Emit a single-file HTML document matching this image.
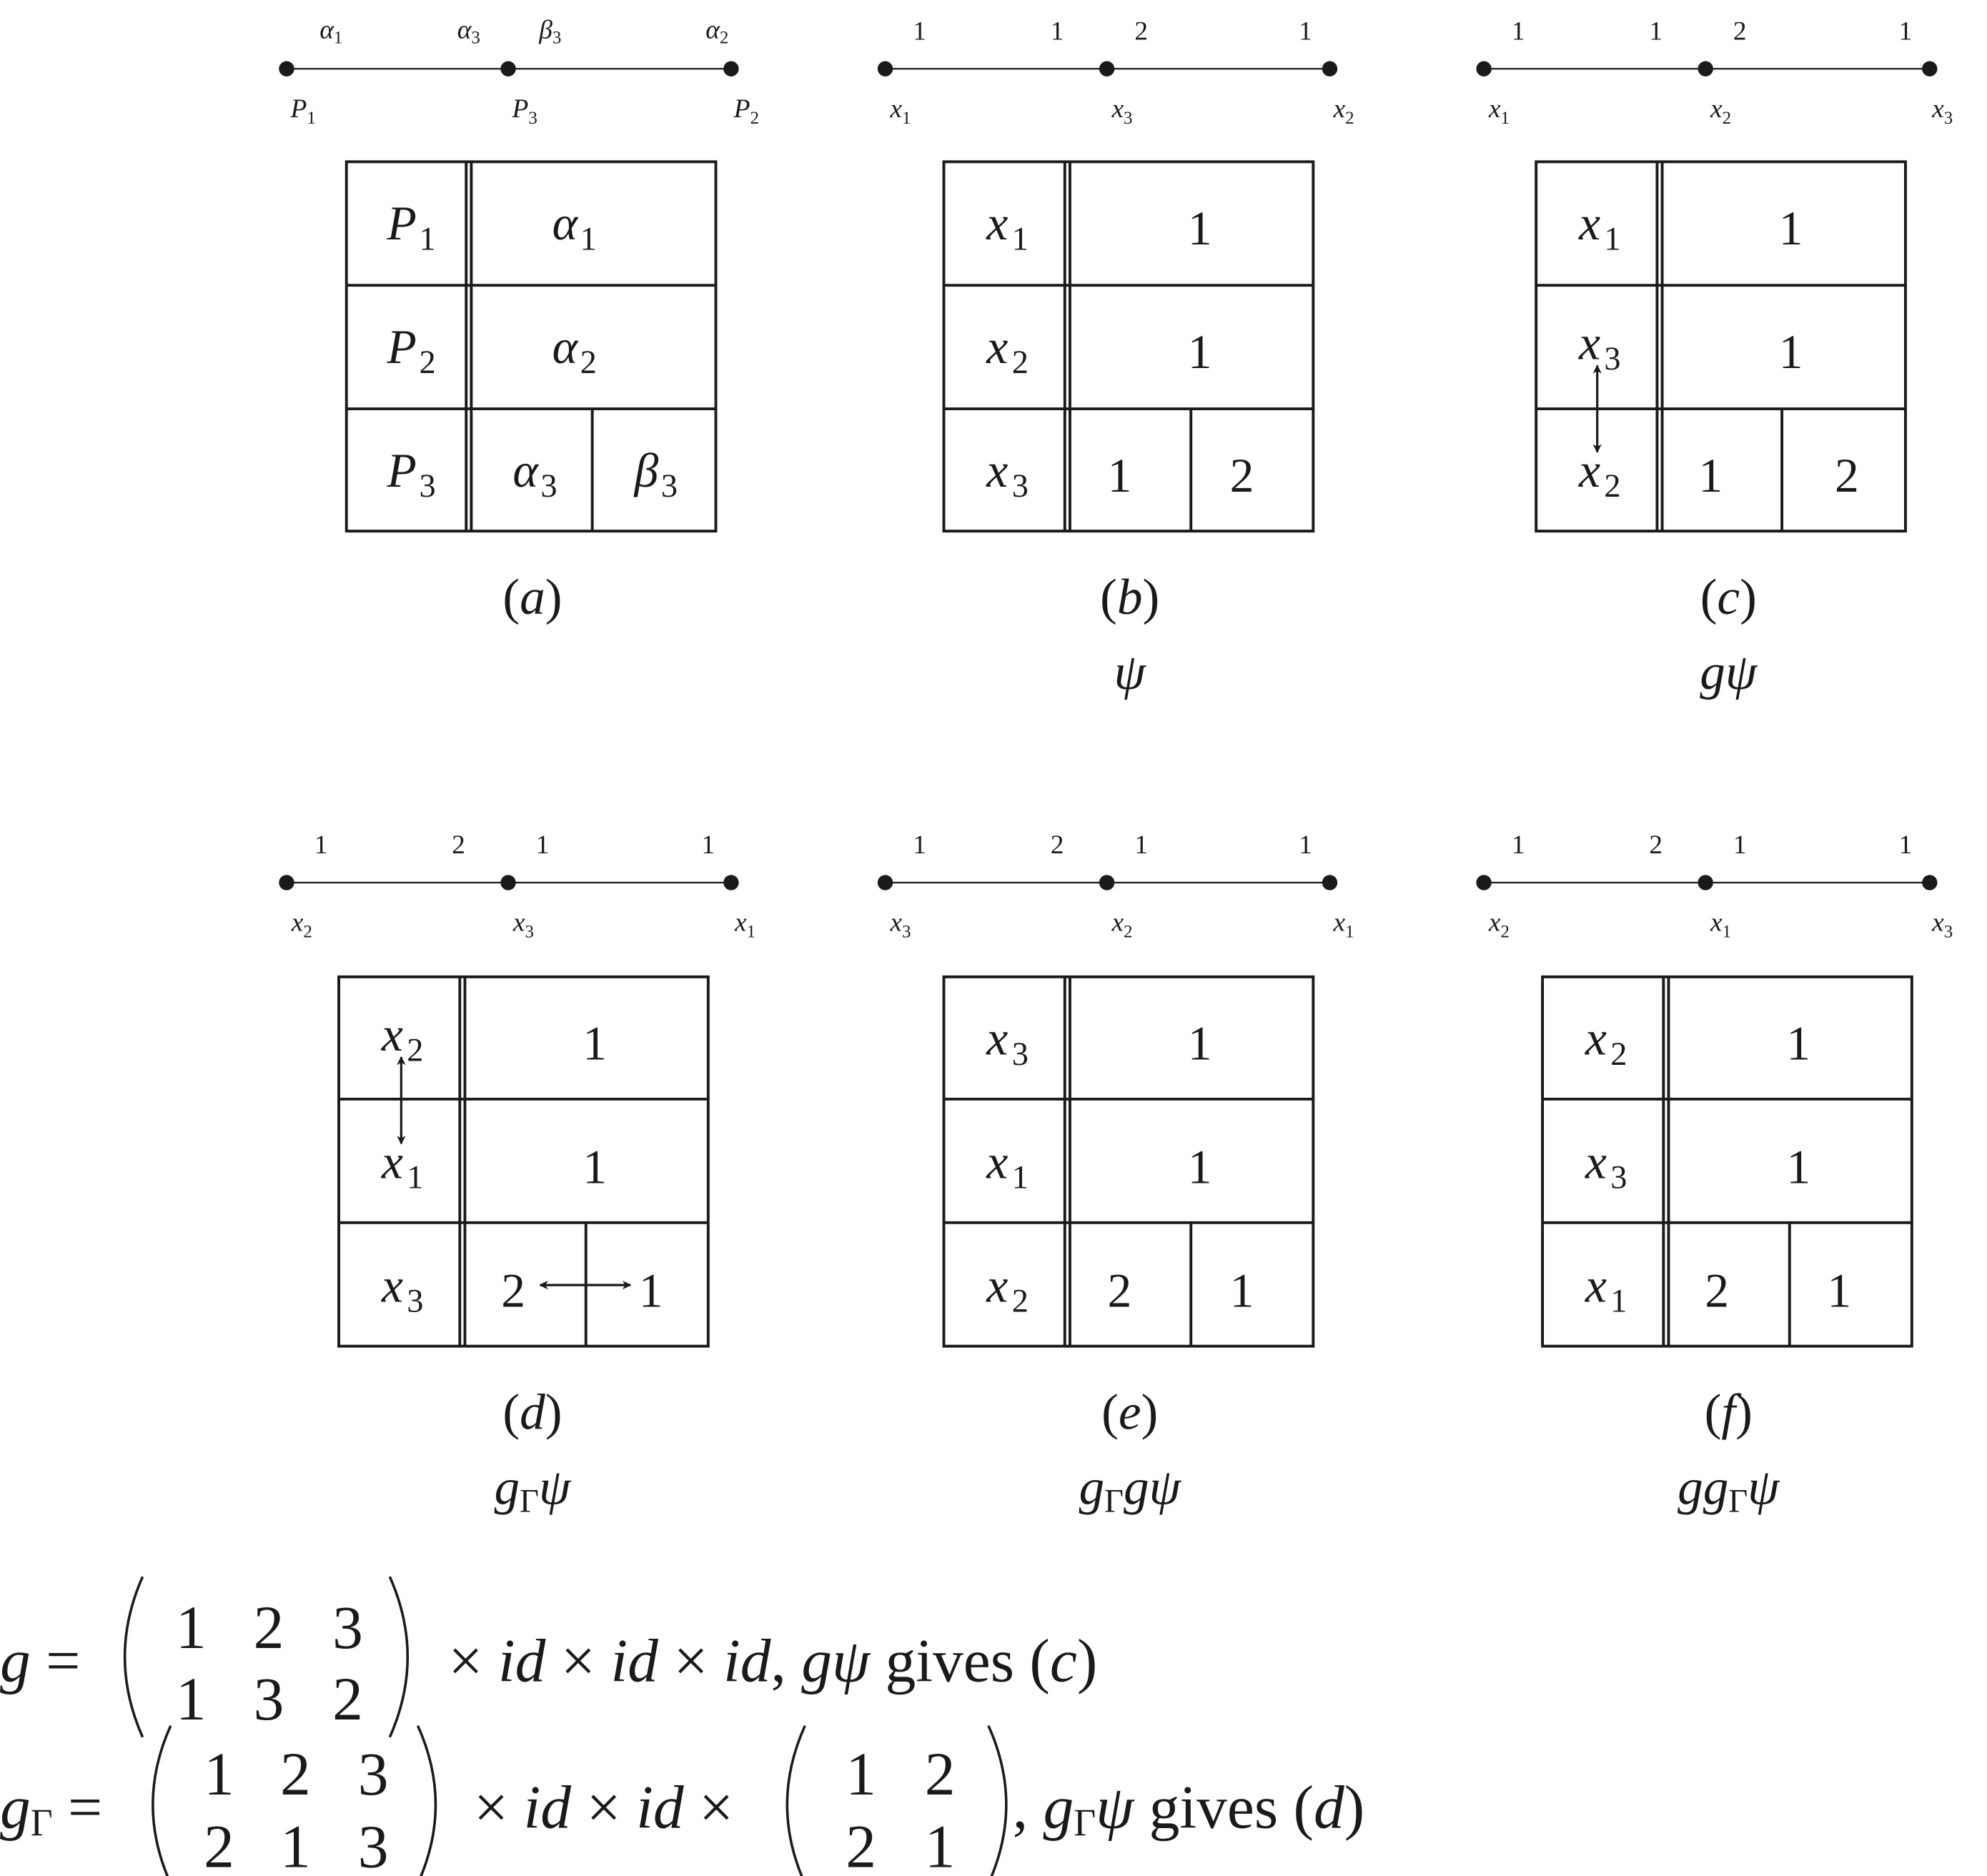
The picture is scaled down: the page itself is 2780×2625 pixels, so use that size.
<!DOCTYPE html>
<html><head><meta charset="utf-8"><style>
html,body{margin:0;padding:0;background:#fff;}
svg{display:block;}
text{font-family:"Liberation Serif",serif;fill:#1a1a1a;}
.it{font-style:italic;}
</style></head><body>
<svg width="2780" height="2625" viewBox="0 0 1560 1473" xmlns="http://www.w3.org/2000/svg">
<defs>
<marker id="ah" viewBox="0 0 10 10" refX="9" refY="5" markerWidth="7" markerHeight="7" markerUnits="userSpaceOnUse" orient="auto-start-reverse"><path d="M0,0 L10,5 L0,10 L3,5 z" fill="#1a1a1a"/></marker>
</defs>
<g stroke="#1a1a1a" fill="none">
<g stroke-width="1.3">
<line x1="225" y1="54" x2="574" y2="54"/><line x1="695" y1="54" x2="1044" y2="54"/><line x1="1165" y1="54" x2="1515" y2="54"/>
<line x1="225" y1="693" x2="574" y2="693"/><line x1="695" y1="693" x2="1044" y2="693"/><line x1="1165" y1="693" x2="1515" y2="693"/>
</g>
<g stroke-width="2.2">
<rect x="272" y="127" width="290" height="290"/><line x1="272" y1="224" x2="562" y2="224"/><line x1="272" y1="321" x2="562" y2="321"/><line x1="366" y1="127" x2="366" y2="417"/><line x1="370" y1="127" x2="370" y2="417"/><line x1="465" y1="321" x2="465" y2="417"/>
<rect x="741" y="127" width="290" height="290"/><line x1="741" y1="224" x2="1031" y2="224"/><line x1="741" y1="321" x2="1031" y2="321"/><line x1="836" y1="127" x2="836" y2="417"/><line x1="840" y1="127" x2="840" y2="417"/><line x1="935" y1="321" x2="935" y2="417"/>
<rect x="1206" y="127" width="290" height="290"/><line x1="1206" y1="224" x2="1496" y2="224"/><line x1="1206" y1="321" x2="1496" y2="321"/><line x1="1301" y1="127" x2="1301" y2="417"/><line x1="1305" y1="127" x2="1305" y2="417"/><line x1="1399" y1="321" x2="1399" y2="417"/>
<rect x="266" y="767" width="290" height="290"/><line x1="266" y1="863" x2="556" y2="863"/><line x1="266" y1="960" x2="556" y2="960"/><line x1="361" y1="767" x2="361" y2="1057"/><line x1="365" y1="767" x2="365" y2="1057"/><line x1="460" y1="960" x2="460" y2="1057"/>
<rect x="741" y="767" width="290" height="290"/><line x1="741" y1="863" x2="1031" y2="863"/><line x1="741" y1="960" x2="1031" y2="960"/><line x1="836" y1="767" x2="836" y2="1057"/><line x1="840" y1="767" x2="840" y2="1057"/><line x1="935" y1="960" x2="935" y2="1057"/>
<rect x="1211" y="767" width="290" height="290"/><line x1="1211" y1="863" x2="1501" y2="863"/><line x1="1211" y1="960" x2="1501" y2="960"/><line x1="1306" y1="767" x2="1306" y2="1057"/><line x1="1310" y1="767" x2="1310" y2="1057"/><line x1="1405" y1="960" x2="1405" y2="1057"/>
</g>
<g stroke-width="1.8">
<line x1="1254" y1="287" x2="1254" y2="355" marker-start="url(#ah)" marker-end="url(#ah)"/>
<line x1="315" y1="830" x2="315" y2="898" marker-start="url(#ah)" marker-end="url(#ah)"/>
<line x1="424" y1="1009" x2="495" y2="1009" marker-start="url(#ah)" marker-end="url(#ah)"/>
</g>
<g stroke-width="2">
<path d="M112 1238 Q 84 1301 112 1364"/><path d="M306 1238 Q 334 1301 306 1364"/>
<path d="M134 1355 Q 106 1417 134 1479"/><path d="M328 1355 Q 356 1417 328 1479"/>
<path d="M632 1355 Q 604 1417 632 1479"/><path d="M776 1355 Q 804 1417 776 1479"/>
</g>
</g>
<g fill="#1a1a1a">
<circle cx="225" cy="54" r="6"/><circle cx="399" cy="54" r="6"/><circle cx="574" cy="54" r="6"/>
<circle cx="695" cy="54" r="6"/><circle cx="869" cy="54" r="6"/><circle cx="1044" cy="54" r="6"/>
<circle cx="1165" cy="54" r="6"/><circle cx="1339" cy="54" r="6"/><circle cx="1515" cy="54" r="6"/>
<circle cx="225" cy="693" r="6"/><circle cx="399" cy="693" r="6"/><circle cx="574" cy="693" r="6"/>
<circle cx="695" cy="693" r="6"/><circle cx="869" cy="693" r="6"/><circle cx="1044" cy="693" r="6"/>
<circle cx="1165" cy="693" r="6"/><circle cx="1339" cy="693" r="6"/><circle cx="1515" cy="693" r="6"/>
</g>
<g font-size="21" text-anchor="middle">
<text x="260" y="30"><tspan class="it">α</tspan><tspan font-size="14" dy="4">1</tspan></text>
<text x="368" y="30"><tspan class="it">α</tspan><tspan font-size="14" dy="4">3</tspan></text>
<text x="432" y="30"><tspan class="it">β</tspan><tspan font-size="14" dy="4">3</tspan></text>
<text x="563" y="30"><tspan class="it">α</tspan><tspan font-size="14" dy="4">2</tspan></text>
<text x="238" y="92"><tspan class="it">P</tspan><tspan font-size="14" dy="5">1</tspan></text>
<text x="412" y="92"><tspan class="it">P</tspan><tspan font-size="14" dy="5">3</tspan></text>
<text x="586" y="92"><tspan class="it">P</tspan><tspan font-size="14" dy="5">2</tspan></text>
<text x="722" y="31">1</text><text x="830" y="31">1</text><text x="896" y="31">2</text><text x="1025" y="31">1</text>
<text x="707" y="92"><tspan class="it">x</tspan><tspan font-size="14" dy="5">1</tspan></text>
<text x="881" y="92"><tspan class="it">x</tspan><tspan font-size="14" dy="5">3</tspan></text>
<text x="1055" y="92"><tspan class="it">x</tspan><tspan font-size="14" dy="5">2</tspan></text>
<text x="1192" y="31">1</text><text x="1300" y="31">1</text><text x="1366" y="31">2</text><text x="1496" y="31">1</text>
<text x="1177" y="92"><tspan class="it">x</tspan><tspan font-size="14" dy="5">1</tspan></text>
<text x="1351" y="92"><tspan class="it">x</tspan><tspan font-size="14" dy="5">2</tspan></text>
<text x="1525" y="92"><tspan class="it">x</tspan><tspan font-size="14" dy="5">3</tspan></text>
<text x="252" y="670">1</text><text x="360" y="670">2</text><text x="426" y="670">1</text><text x="556" y="670">1</text>
<text x="237" y="731"><tspan class="it">x</tspan><tspan font-size="14" dy="5">2</tspan></text>
<text x="411" y="731"><tspan class="it">x</tspan><tspan font-size="14" dy="5">3</tspan></text>
<text x="585" y="731"><tspan class="it">x</tspan><tspan font-size="14" dy="5">1</tspan></text>
<text x="722" y="670">1</text><text x="830" y="670">2</text><text x="896" y="670">1</text><text x="1025" y="670">1</text>
<text x="707" y="731"><tspan class="it">x</tspan><tspan font-size="14" dy="5">3</tspan></text>
<text x="881" y="731"><tspan class="it">x</tspan><tspan font-size="14" dy="5">2</tspan></text>
<text x="1055" y="731"><tspan class="it">x</tspan><tspan font-size="14" dy="5">1</tspan></text>
<text x="1192" y="670">1</text><text x="1300" y="670">2</text><text x="1366" y="670">1</text><text x="1496" y="670">1</text>
<text x="1177" y="731"><tspan class="it">x</tspan><tspan font-size="14" dy="5">2</tspan></text>
<text x="1351" y="731"><tspan class="it">x</tspan><tspan font-size="14" dy="5">1</tspan></text>
<text x="1525" y="731"><tspan class="it">x</tspan><tspan font-size="14" dy="5">3</tspan></text>
</g>
<g font-size="38" text-anchor="middle">
<text x="323" y="188"><tspan class="it">P</tspan><tspan font-size="26" dy="8" dx="2">1</tspan></text>
<text x="451" y="188"><tspan class="it">α</tspan><tspan font-size="26" dy="8" dx="2">1</tspan></text>
<text x="323" y="285"><tspan class="it">P</tspan><tspan font-size="26" dy="8" dx="2">2</tspan></text>
<text x="451" y="285"><tspan class="it">α</tspan><tspan font-size="26" dy="8" dx="2">2</tspan></text>
<text x="323" y="382"><tspan class="it">P</tspan><tspan font-size="26" dy="8" dx="2">3</tspan></text>
<text x="420" y="382"><tspan class="it">α</tspan><tspan font-size="26" dy="8" dx="2">3</tspan></text>
<text x="515" y="382"><tspan class="it">β</tspan><tspan font-size="26" dy="8" dx="2">3</tspan></text>

<text x="791" y="188"><tspan class="it">x</tspan><tspan font-size="26" dy="8" dx="3">1</tspan></text><text x="942" y="192">1</text>
<text x="791" y="285"><tspan class="it">x</tspan><tspan font-size="26" dy="8" dx="3">2</tspan></text><text x="942" y="289">1</text>
<text x="791" y="382"><tspan class="it">x</tspan><tspan font-size="26" dy="8" dx="3">3</tspan></text><text x="879" y="386">1</text><text x="975" y="386">2</text>

<text x="1256" y="188"><tspan class="it">x</tspan><tspan font-size="26" dy="8" dx="3">1</tspan></text><text x="1406" y="192">1</text>
<text x="1256" y="282"><tspan class="it">x</tspan><tspan font-size="26" dy="8" dx="3">3</tspan></text><text x="1406" y="289">1</text>
<text x="1256" y="382"><tspan class="it">x</tspan><tspan font-size="26" dy="8" dx="3">2</tspan></text><text x="1343" y="386">1</text><text x="1450" y="386">2</text>

<text x="316" y="825"><tspan class="it">x</tspan><tspan font-size="26" dy="8" dx="3">2</tspan></text><text x="467" y="832">1</text>
<text x="316" y="925"><tspan class="it">x</tspan><tspan font-size="26" dy="8" dx="3">1</tspan></text><text x="467" y="929">1</text>
<text x="316" y="1022"><tspan class="it">x</tspan><tspan font-size="26" dy="8" dx="3">3</tspan></text><text x="403" y="1026">2</text><text x="511" y="1026">1</text>

<text x="791" y="828"><tspan class="it">x</tspan><tspan font-size="26" dy="8" dx="3">3</tspan></text><text x="942" y="832">1</text>
<text x="791" y="925"><tspan class="it">x</tspan><tspan font-size="26" dy="8" dx="3">1</tspan></text><text x="942" y="929">1</text>
<text x="791" y="1022"><tspan class="it">x</tspan><tspan font-size="26" dy="8" dx="3">2</tspan></text><text x="879" y="1026">2</text><text x="975" y="1026">1</text>

<text x="1261" y="828"><tspan class="it">x</tspan><tspan font-size="26" dy="8" dx="3">2</tspan></text><text x="1412" y="832">1</text>
<text x="1261" y="925"><tspan class="it">x</tspan><tspan font-size="26" dy="8" dx="3">3</tspan></text><text x="1412" y="929">1</text>
<text x="1261" y="1022"><tspan class="it">x</tspan><tspan font-size="26" dy="8" dx="3">1</tspan></text><text x="1348" y="1026">2</text><text x="1444" y="1026">1</text>
</g>
<g font-size="40" text-anchor="middle">
<text x="418" y="482">(<tspan class="it">a</tspan>)</text>
<text x="887" y="482">(<tspan class="it">b</tspan>)</text>
<text x="887" y="541" class="it">ψ</text>
<text x="1357" y="482">(<tspan class="it">c</tspan>)</text>
<text x="1357" y="541" class="it">gψ</text>
<text x="418" y="1122">(<tspan class="it">d</tspan>)</text>
<text x="418" y="1181"><tspan class="it">g</tspan><tspan font-size="26" dy="6">Γ</tspan><tspan class="it" dy="-6">ψ</tspan></text>
<text x="887" y="1122">(<tspan class="it">e</tspan>)</text>
<text x="887" y="1181"><tspan class="it">g</tspan><tspan font-size="26" dy="6">Γ</tspan><tspan class="it" dy="-6">gψ</tspan></text>
<text x="1357" y="1122">(<tspan class="it">f</tspan>)</text>
<text x="1357" y="1181"><tspan class="it">gg</tspan><tspan font-size="26" dy="6">Γ</tspan><tspan class="it" dy="-6">ψ</tspan></text>
</g>
<g font-size="48">
<text x="0" y="1320"><tspan class="it">g</tspan> =</text>
<text x="150" y="1294" text-anchor="middle">1</text><text x="211" y="1294" text-anchor="middle">2</text><text x="273" y="1294" text-anchor="middle">3</text>
<text x="150" y="1350" text-anchor="middle">1</text><text x="211" y="1350" text-anchor="middle">3</text><text x="273" y="1350" text-anchor="middle">2</text>
<text x="352" y="1320">× <tspan class="it">id</tspan> × <tspan class="it">id</tspan> × <tspan class="it">id</tspan>, <tspan class="it">gψ</tspan> gives (<tspan class="it">c</tspan>)</text>
<text x="0" y="1435"><tspan class="it">g</tspan><tspan font-size="30" dy="6">Γ</tspan><tspan dy="-6"> =</tspan></text>
<text x="172" y="1409" text-anchor="middle">1</text><text x="232" y="1409" text-anchor="middle">2</text><text x="293" y="1409" text-anchor="middle">3</text>
<text x="172" y="1466" text-anchor="middle">2</text><text x="232" y="1466" text-anchor="middle">1</text><text x="293" y="1466" text-anchor="middle">3</text>
<text x="372" y="1435">× <tspan class="it">id</tspan> × <tspan class="it">id</tspan> ×</text>
<text x="676" y="1409" text-anchor="middle">1</text><text x="738" y="1409" text-anchor="middle">2</text>
<text x="676" y="1466" text-anchor="middle">2</text><text x="738" y="1466" text-anchor="middle">1</text>
<text x="795" y="1435">, <tspan class="it">g</tspan><tspan font-size="30" dy="6">Γ</tspan><tspan class="it" dy="-6">ψ</tspan> gives (<tspan class="it">d</tspan>)</text>
</g>
</svg>
</body></html>
